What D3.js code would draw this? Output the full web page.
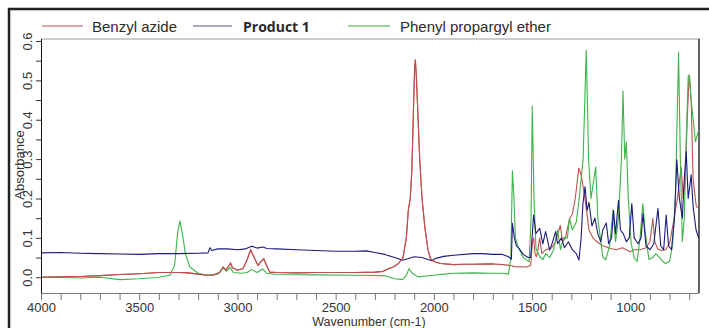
<!DOCTYPE html>
<html><head><meta charset="utf-8">
<script src="https://cdn.jsdelivr.net/npm/d3@7"></script>
<style>
html,body{margin:0;padding:0;background:#fff;}
svg{display:block;}
</style></head>
<body>
<svg id="c" width="709" height="328"></svg>
<script>
// ---- data: [wavenumber (cm-1), absorbance] ----
const seriesNames = ["Benzyl azide", "Product 1", "Phenyl propargyl ether"];
const xTicks = [4000, 3500, 3000, 2500, 2000, 1500, 1000];
const yTicks = [0.0, 0.1, 0.2, 0.3, 0.4, 0.5, 0.6];
const yTickLabels = ["0.0", "0.1", "0.2", "0.3", "0.4", "0.5", "0.6"];

const benzylAzide = [[4000,0.0],[3900,0.001],[3800,0.002],[3700,0.004],[3600,0.007],[3500,0.009],[3400,0.012],[3300,0.012],[3250,0.011],[3200,0.008],[3150,0.005],[3120,0.006],[3090,0.012],[3073,0.026],[3060,0.018],[3045,0.028],[3035,0.036],[3025,0.024],[3000,0.018],[2971,0.022],[2950,0.045],[2933,0.07],[2915,0.05],[2895,0.03],[2880,0.04],[2866,0.047],[2850,0.028],[2835,0.013],[2800,0.012],[2700,0.011],[2600,0.012],[2500,0.012],[2400,0.012],[2300,0.013],[2258,0.015],[2230,0.022],[2207,0.026],[2180,0.035],[2157,0.05],[2140,0.1],[2130,0.17],[2120,0.2],[2112,0.27],[2104,0.42],[2098,0.53],[2094,0.552],[2088,0.5],[2080,0.4],[2072,0.3],[2060,0.2],[2046,0.128],[2030,0.07],[2017,0.047],[2000,0.04],[1966,0.035],[1900,0.032],[1850,0.033],[1800,0.033],[1700,0.034],[1650,0.032],[1610,0.03],[1590,0.027],[1530,0.026],[1507,0.03],[1498,0.09],[1492,0.1],[1485,0.06],[1478,0.052],[1470,0.07],[1461,0.1],[1450,0.06],[1430,0.07],[1400,0.075],[1380,0.09],[1356,0.132],[1345,0.09],[1330,0.1],[1309,0.149],[1295,0.16],[1280,0.2],[1262,0.277],[1250,0.26],[1240,0.23],[1225,0.18],[1210,0.12],[1190,0.1],[1170,0.09],[1140,0.08],[1100,0.073],[1070,0.07],[1040,0.075],[1000,0.065],[980,0.07],[950,0.07],[920,0.075],[900,0.09],[885,0.149],[875,0.09],[860,0.072],[840,0.068],[820,0.07],[800,0.085],[780,0.14],[760,0.2],[741,0.28],[730,0.2],[720,0.25],[710,0.4],[700,0.514],[690,0.45],[680,0.25],[664,0.18],[652,0.175]];

const product1 = [[4000,0.062],[3900,0.063],[3800,0.061],[3700,0.06],[3600,0.059],[3500,0.058],[3400,0.06],[3300,0.06],[3200,0.061],[3150,0.062],[3140,0.075],[3130,0.068],[3100,0.072],[3050,0.072],[3000,0.07],[2960,0.072],[2928,0.079],[2900,0.074],[2870,0.077],[2850,0.073],[2800,0.072],[2700,0.07],[2600,0.068],[2500,0.066],[2400,0.066],[2343,0.067],[2300,0.063],[2250,0.058],[2200,0.05],[2158,0.043],[2100,0.052],[2060,0.05],[2030,0.045],[2010,0.042],[1990,0.048],[1950,0.053],[1900,0.056],[1800,0.06],[1750,0.06],[1700,0.058],[1650,0.058],[1620,0.052],[1605,0.046],[1600,0.137],[1590,0.1],[1580,0.08],[1565,0.072],[1545,0.058],[1520,0.05],[1507,0.05],[1492,0.158],[1480,0.111],[1461,0.124],[1445,0.085],[1431,0.116],[1410,0.069],[1395,0.09],[1380,0.116],[1370,0.085],[1350,0.1],[1335,0.075],[1315,0.09],[1295,0.07],[1275,0.06],[1261,0.044],[1250,0.1],[1241,0.187],[1230,0.23],[1220,0.17],[1210,0.19],[1195,0.13],[1180,0.15],[1165,0.11],[1150,0.09],[1140,0.12],[1122,0.138],[1110,0.085],[1095,0.1],[1085,0.17],[1075,0.11],[1060,0.195],[1050,0.12],[1035,0.11],[1020,0.09],[1005,0.1],[992,0.187],[980,0.1],[960,0.085],[945,0.1],[935,0.162],[920,0.08],[900,0.07],[880,0.085],[859,0.175],[845,0.08],[830,0.07],[817,0.158],[805,0.08],[790,0.07],[775,0.15],[763,0.298],[750,0.2],[735,0.15],[725,0.25],[715,0.319],[705,0.2],[690,0.26],[680,0.18],[665,0.12],[652,0.1]];

const phenylPropargylEther = [[4000,0.0],[3900,0.0],[3800,-0.002],[3700,0.0],[3600,-0.006],[3500,-0.004],[3400,0.0],[3344,0.005],[3320,0.03],[3305,0.11],[3293,0.143],[3280,0.11],[3265,0.06],[3242,0.026],[3200,0.01],[3157,0.005],[3100,0.008],[3073,0.023],[3055,0.015],[3038,0.025],[3020,0.012],[2980,0.01],[2950,0.012],[2928,0.02],[2900,0.012],[2872,0.021],[2850,0.01],[2800,0.007],[2600,0.006],[2400,0.005],[2250,0.004],[2200,-0.004],[2160,-0.006],[2140,0.005],[2126,0.022],[2110,0.01],[2080,0.001],[2040,0.003],[2000,0.005],[1950,0.008],[1900,0.01],[1800,0.011],[1700,0.01],[1650,0.01],[1620,0.008],[1608,0.05],[1600,0.27],[1592,0.2],[1585,0.1],[1570,0.077],[1545,0.05],[1515,0.039],[1505,0.15],[1499,0.435],[1490,0.2],[1480,0.073],[1461,0.052],[1445,0.045],[1430,0.06],[1410,0.05],[1390,0.07],[1370,0.12],[1355,0.07],[1340,0.1],[1320,0.1],[1309,0.149],[1295,0.12],[1275,0.14],[1260,0.2],[1240,0.3],[1224,0.576],[1212,0.3],[1200,0.2],[1176,0.28],[1165,0.15],[1140,0.052],[1125,0.044],[1105,0.08],[1088,0.17],[1075,0.09],[1060,0.15],[1045,0.3],[1037,0.473],[1028,0.3],[1020,0.344],[1010,0.2],[995,0.085],[980,0.05],[965,0.04],[950,0.1],[936,0.187],[925,0.12],[905,0.045],[885,0.05],[870,0.06],[850,0.05],[835,0.04],[820,0.035],[800,0.04],[785,0.08],[770,0.2],[754,0.571],[745,0.3],[735,0.09],[725,0.15],[715,0.35],[705,0.51],[698,0.51],[690,0.45],[668,0.344],[652,0.374]];

const colors = ["#c0504f", "#1c1c7c", "#3db54a"];
const legendColors = ["#d98a8a", "#8a8aa8", "#7cc47c"];

// ---- layout ----
const svg = d3.select("#c");
const L = 41, R = 699, T = 39, B = 293;
const x = d3.scaleLinear().domain([4000, 650]).range([L, R]);
const y = d3.scaleLinear().domain([-0.04, 0.605]).range([B, T]);

// outer frame (top + left)
svg.append("line").attr("x1", 8).attr("x2", 709).attr("y1", 9).attr("y2", 9)
  .attr("stroke", "#222").attr("stroke-width", 2.5);
svg.append("line").attr("x1", 9).attr("x2", 9).attr("y1", 8).attr("y2", 328)
  .attr("stroke", "#222").attr("stroke-width", 2.5);

// plot frame
svg.append("line").attr("x1", L).attr("x2", R + 1).attr("y1", T).attr("y2", T).attr("stroke", "#9a9a9a").attr("stroke-width", 1.2);
svg.append("line").attr("x1", R).attr("x2", R).attr("y1", T).attr("y2", B).attr("stroke", "#222").attr("stroke-width", 1.4);

// clip
svg.append("clipPath").attr("id", "clip").append("rect")
  .attr("x", L).attr("y", T).attr("width", R - L).attr("height", B - T);

const line = d3.line().x(d => x(d[0])).y(d => y(d[1]));
const g = svg.append("g").attr("clip-path", "url(#clip)");
[[benzylAzide, 0], [phenylPropargylEther, 2], [product1, 1]].forEach(([s, idx]) => {
  g.append("path").datum(s).attr("d", line).attr("fill", "none")
    .attr("stroke", colors[idx]).attr("stroke-width", 1.1).attr("stroke-linejoin", "round");
});
g.append("path").datum(benzylAzide.filter(d => d[0] > 1650)).attr("d", line).attr("fill", "none")
  .attr("stroke", colors[0]).attr("stroke-width", 1.1);

// x axis
const xMinor = d3.range(4000, 649, -100);
const xAxis = svg.append("g").attr("transform", `translate(0,${B})`)
  .call(d3.axisBottom(x).tickValues(xMinor).tickSize(7).tickFormat(d => xTicks.includes(d) ? d : ""));
xAxis.select(".domain").attr("stroke", "#777").attr("d", `M${L},0.5H${R}`);
xAxis.selectAll(".tick line").attr("stroke", "#777");
xAxis.selectAll(".tick text").attr("font-family", "Liberation Sans, Arial, sans-serif")
  .attr("font-size", 13).attr("fill", "#333").attr("y", 18.5).attr("dy", 0);

// y axis
const yMinor = d3.range(0, 0.6001, 0.05).map(v => +v.toFixed(2));
const yAxis = svg.append("g").attr("transform", `translate(${L},0)`)
  .call(d3.axisLeft(y).tickValues(yMinor).tickSize(5).tickFormat(d => {
    const i = yTicks.findIndex(t => Math.abs(t - d) < 1e-6);
    return i >= 0 ? yTickLabels[i] : "";
  }));
yAxis.select(".domain").attr("stroke", "#111").attr("d", `M0.5,${T}V${B}`);
yAxis.selectAll(".tick line").attr("stroke", "#333");
yAxis.selectAll(".tick text")
  .attr("font-family", "Liberation Sans, Arial, sans-serif").attr("font-size", 13).attr("fill", "#333")
  .attr("x", 0).attr("dy", 0).attr("text-anchor", "middle")
  .attr("transform", "translate(-9,0) rotate(-90)");

// axis titles
svg.append("text").attr("x", 369).attr("y", 326).attr("text-anchor", "middle")
  .attr("font-family", "Liberation Sans, Arial, sans-serif").attr("font-size", 12.5).attr("fill", "#333")
  .text("Wavenumber (cm-1)");
svg.append("text").attr("transform", "translate(24,165) rotate(-90)").attr("text-anchor", "middle")
  .attr("font-family", "Liberation Sans, Arial, sans-serif").attr("font-size", 13).attr("fill", "#333")
  .text("Absorbance");

// legend
const leg = [
  {x1: 42, x2: 83, tx: 92, bold: false, font: "Liberation Sans, Arial, sans-serif", size: 15},
  {x1: 193, x2: 232, tx: 243, bold: true, font: "Open Sans, sans-serif", size: 14},
  {x1: 348, x2: 390, tx: 400, bold: false, font: "Liberation Sans, Arial, sans-serif", size: 15}
];
leg.forEach((l, i) => {
  svg.append("line").attr("x1", l.x1).attr("x2", l.x2).attr("y1", 26).attr("y2", 26)
    .attr("stroke", legendColors[i]).attr("stroke-width", 1.5);
  svg.append("text").attr("x", l.tx).attr("y", 31.5)
    .attr("font-family", l.font).attr("font-size", l.size)
    .attr("font-weight", l.bold ? "bold" : "normal").attr("fill", "#2a2a2a")
    .text(seriesNames[i]);
});
</script>
</body></html>
